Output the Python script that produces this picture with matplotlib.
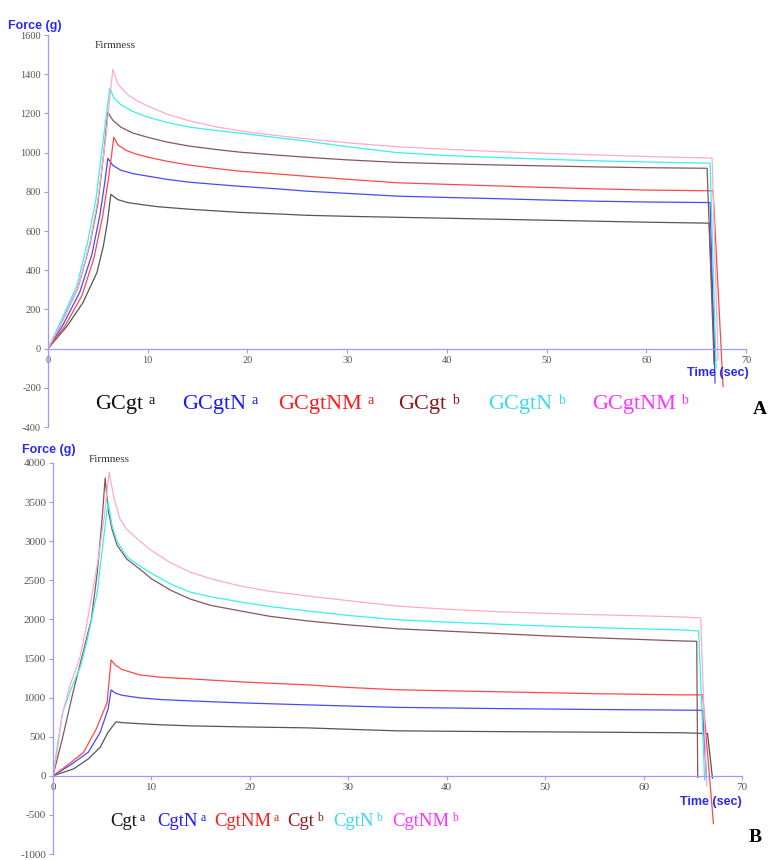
import numpy as np
import matplotlib.pyplot as plt

plt.rcParams['font.family'] = ['Liberation Serif', 'DejaVu Serif']
plt.rcParams['axes.unicode_minus'] = False

W, H = 769, 860

# ---- Panel A data (time s, force g) ----
a_gcgt_a_t = [0, 1.9, 3.5, 4.9, 5.55, 5.95, 6.3, 7, 8, 9.2, 11, 14.2, 17, 19.3, 23, 26, 30, 35, 40, 45, 50, 55, 60, 66.3, 66.9]
a_gcgt_a_f = [0, 114, 234, 387, 523, 643, 787, 760, 745, 736, 724, 711, 702, 695, 687, 680, 675, 670, 665, 660, 655, 650, 645, 640, -60]

a_gcgtn_a_t = [0, 1.5, 3.2, 4.4, 5.2, 5.7, 6.0, 6.5, 7.3, 8.5, 10, 12, 14.2, 17, 19.3, 23, 26, 30, 35, 40, 45, 50, 55, 60, 66.4, 66.9]
a_gcgtn_a_f = [0, 120, 290, 480, 680, 850, 971, 935, 910, 893, 880, 863, 849, 837, 828, 815, 803, 792, 778, 771, 765, 758, 752, 748, 745, -175]

a_gcgtnm_a_t = [0, 1.7, 3.4, 4.6, 5.5, 6.1, 6.6, 7.0, 7.8, 8.8, 10, 12, 14.2, 17, 19.3, 23, 26, 30, 35, 40, 45, 50, 55, 60, 66.7, 67.7]
a_gcgtnm_a_f = [0, 115, 270, 460, 680, 880, 1079, 1040, 1012, 993, 977, 955, 936, 918, 905, 891, 879, 864, 846, 838, 830, 822, 815, 809, 805, -194]

a_gcgt_b_t = [0, 1.3, 3.0, 4.2, 5.0, 5.6, 6.0, 6.5, 7.3, 8.5, 10, 12, 14.2, 17, 19.3, 23, 26, 30, 35, 40, 45, 50, 55, 60, 66.1, 66.8]
a_gcgt_b_f = [0, 125, 310, 530, 740, 1000, 1206, 1165, 1130, 1100, 1078, 1053, 1033, 1015, 1002, 987, 976, 963, 950, 943, 937, 932, 927, 923, 920, -80]

a_gcgtn_b_t = [0, 1.2, 2.9, 4.0, 4.8, 5.5, 6.2, 6.6, 7.3, 8.5, 10, 12, 14.2, 17, 19.3, 23, 26, 30, 35, 40, 45, 50, 55, 60, 66.4, 67.0]
a_gcgtn_b_f = [0, 130, 320, 550, 760, 1050, 1329, 1280, 1245, 1210, 1181, 1153, 1130, 1112, 1099, 1076, 1058, 1030, 1000, 985, 975, 966, 958, 952, 946, -100]

a_gcgtnm_b_t = [0, 1.3, 3.0, 4.2, 5.0, 5.8, 6.5, 7.0, 8.0, 9.0, 10, 12, 14.2, 17, 20, 25, 30, 35, 40, 45, 50, 55, 60, 66.6, 67.2]
a_gcgtnm_b_f = [0, 125, 310, 540, 760, 1080, 1426, 1350, 1295, 1262, 1238, 1195, 1162, 1130, 1105, 1075, 1050, 1030, 1017, 1005, 996, 988, 980, 972, -60]

# ---- Panel B data ----
b_cgt_a_t = [0, 2.1, 3.6, 4.8, 5.6, 6.4, 7, 9, 11, 13.9, 19, 25.8, 30, 35, 45, 55, 64, 66.5, 67.0]
b_cgt_a_f = [0, 89, 217, 367, 558, 690, 680, 665, 652, 639, 626, 613, 595, 575, 565, 558, 550, 540, -30]

b_cgtn_a_t = [0, 1.7, 3.6, 4.8, 5.6, 5.9, 6.3, 7, 8.8, 11, 13.9, 19, 25.8, 35, 45, 55, 63.7, 66.0, 66.4]
b_cgtn_a_f = [0, 132, 303, 558, 856, 1099, 1060, 1030, 997, 975, 958, 933, 907, 875, 860, 848, 840, 838, -60]

b_cgtnm_a_t = [0, 1.4, 3.1, 4.4, 5.5, 5.9, 6.3, 7, 8.8, 11, 13.9, 19, 25.8, 30, 35, 45, 55, 63.7, 66.0, 67.1]
b_cgtnm_a_f = [0, 130, 300, 600, 940, 1482, 1420, 1360, 1290, 1260, 1240, 1201, 1163, 1130, 1100, 1075, 1050, 1035, 1035, -613]

b_cgt_b_t = [0, 1, 2, 3, 3.9, 4.5, 5.0, 5.3, 5.6, 6.0, 6.5, 7.5, 8.8, 10, 12, 13.9, 16, 19, 22, 25.8, 30, 35, 40, 45, 50, 55, 60, 63.7, 65.4, 65.5]
b_cgt_b_f = [0, 500, 1050, 1550, 2006, 2600, 3300, 3808, 3400, 3150, 2950, 2770, 2645, 2520, 2370, 2262, 2180, 2109, 2040, 1981, 1930, 1880, 1850, 1820, 1790, 1765, 1742, 1725, 1720, -20]

b_cgtn_b_t = [0, 0.5, 1.0, 1.8, 2.8, 3.5, 4.5, 5.1, 5.6, 6.0, 6.5, 7.5, 8.8, 10, 12, 13.9, 16, 19, 22, 25.8, 30, 35, 40, 45, 50, 55, 60, 63.7, 65.6, 66.2]
b_cgtn_b_f = [0, 434, 818, 1100, 1400, 1750, 2351, 3000, 3502, 3200, 3000, 2800, 2684, 2590, 2450, 2351, 2290, 2224, 2165, 2109, 2050, 1995, 1965, 1940, 1915, 1895, 1878, 1866, 1853, -50]

b_cgtnm_b_t = [0, 0.5, 0.9, 1.7, 2.7, 3.4, 4.6, 5.2, 5.7, 6.2, 6.8, 7.5, 8.8, 10, 12, 13.9, 16, 19, 22, 25.8, 30, 35, 40, 45, 50, 55, 60, 63.7, 65.8, 66.4]
b_cgtnm_b_f = [0, 383, 767, 1150, 1495, 1917, 2773, 3300, 3885, 3550, 3284, 3150, 3003, 2880, 2720, 2607, 2520, 2428, 2360, 2300, 2240, 2170, 2130, 2100, 2078, 2060, 2045, 2032, 2019, -130]

line_colors = ['#555555', '#4848ff', '#ff4848', '#855858', '#38f0f0', '#ffaacc']
label_colors = ['#111111', '#1a1aff', '#ff1a1a', '#8b1a1a', '#40d8e8', '#ff33ff']

a_names = ['GCgt', 'GCgtN', 'GCgtNM', 'GCgt', 'GCgtN', 'GCgtNM']
b_names = ['Cgt', 'CgtN', 'CgtNM', 'Cgt', 'CgtN', 'CgtNM']
sups = ['a', 'a', 'a', 'b', 'b', 'b']

a_series = [(a_gcgt_a_t, a_gcgt_a_f), (a_gcgtn_a_t, a_gcgtn_a_f), (a_gcgtnm_a_t, a_gcgtnm_a_f),
            (a_gcgt_b_t, a_gcgt_b_f), (a_gcgtn_b_t, a_gcgtn_b_f), (a_gcgtnm_b_t, a_gcgtnm_b_f)]
b_series = [(b_cgt_a_t, b_cgt_a_f), (b_cgtn_a_t, b_cgtn_a_f), (b_cgtnm_a_t, b_cgtnm_a_f),
            (b_cgt_b_t, b_cgt_b_f), (b_cgtn_b_t, b_cgtn_b_f), (b_cgtnm_b_t, b_cgtnm_b_f)]


def fx(px):
    return px / W


def fy(py):
    return 1 - py / H


fig = plt.figure(figsize=(W / 100, H / 100), dpi=100)

axis_blue = '#9a9aff'
label_blue = '#2a2aee'


def style_axes(ax, ylim, yticks, tick_size):
    ax.set_xlim(0, 70)
    ax.set_ylim(*ylim)
    ax.set_xticks(range(0, 71, 10))
    ax.set_yticks(yticks)
    for s in ['top', 'right']:
        ax.spines[s].set_visible(False)
    ax.spines['bottom'].set_position(('data', 0))
    ax.spines['bottom'].set_color(axis_blue)
    ax.spines['left'].set_color(axis_blue)
    ax.spines['bottom'].set_linewidth(0.9)
    ax.spines['left'].set_linewidth(0.9)
    ax.tick_params(color=axis_blue, labelcolor='#555555', length=3, width=0.8,
                   labelsize=tick_size, pad=2)
    ax.patch.set_alpha(0)


# Panel A
axA = fig.add_axes([fx(48), fy(427), (746 - 48) / W, (427 - 35) / H])
for (t, f), c in zip(a_series, line_colors):
    axA.plot(t, f, color=c, lw=0.9)
style_axes(axA, (-400, 1600), range(-400, 1601, 200), 7.5)

# Panel B
axB = fig.add_axes([fx(53), fy(854), (742 - 53) / W, (854 - 463) / H])
for (t, f), c in zip(b_series, line_colors):
    axB.plot(t, f, color=c, lw=0.9)
style_axes(axB, (-1000, 4000), range(-1000, 4001, 500), 8)

sans_bold = dict(family=['Liberation Sans', 'DejaVu Sans'], fontweight='bold', color=label_blue)
fig.text(fx(8), fy(26), 'Force (g)', fontsize=9, va='center', ha='left', **sans_bold)
fig.text(fx(718), fy(373), 'Time (sec)', fontsize=9, va='center', ha='center', **sans_bold)
fig.text(fx(22), fy(450), 'Force (g)', fontsize=9, va='center', ha='left', **sans_bold)
fig.text(fx(711), fy(802), 'Time (sec)', fontsize=9, va='center', ha='center', **sans_bold)

fig.text(fx(95), fy(46), 'Firmness', fontsize=8, color='#333333', va='center')
fig.text(fx(89), fy(460), 'Firmness', fontsize=8, color='#333333', va='center')


def legend_row(names, xs, y, size, sup_size, gap):
    for name, sup, x, c in zip(names, sups, xs, label_colors):
        t = fig.text(fx(x), fy(y), name, fontsize=size, color=c, va='center', ha='left')
        plt.annotate(sup, xy=(1, 1), xycoords=t, xytext=(gap, 1), textcoords='offset points',
                     fontsize=sup_size, color=c, va='top', ha='left', annotation_clip=False)


legend_row(a_names, [95, 182, 278, 398, 488, 592], 405, 16, 10, 4)
legend_row(b_names, [110, 157, 214, 287, 333, 392], 822, 13.5, 8.5, 2)

fig.text(fx(760), fy(410), 'A', fontsize=14, fontweight='bold', ha='center', va='center')
fig.text(fx(755), fy(838), 'B', fontsize=14, fontweight='bold', ha='center', va='center')

fig.savefig('out.png', dpi=100)
